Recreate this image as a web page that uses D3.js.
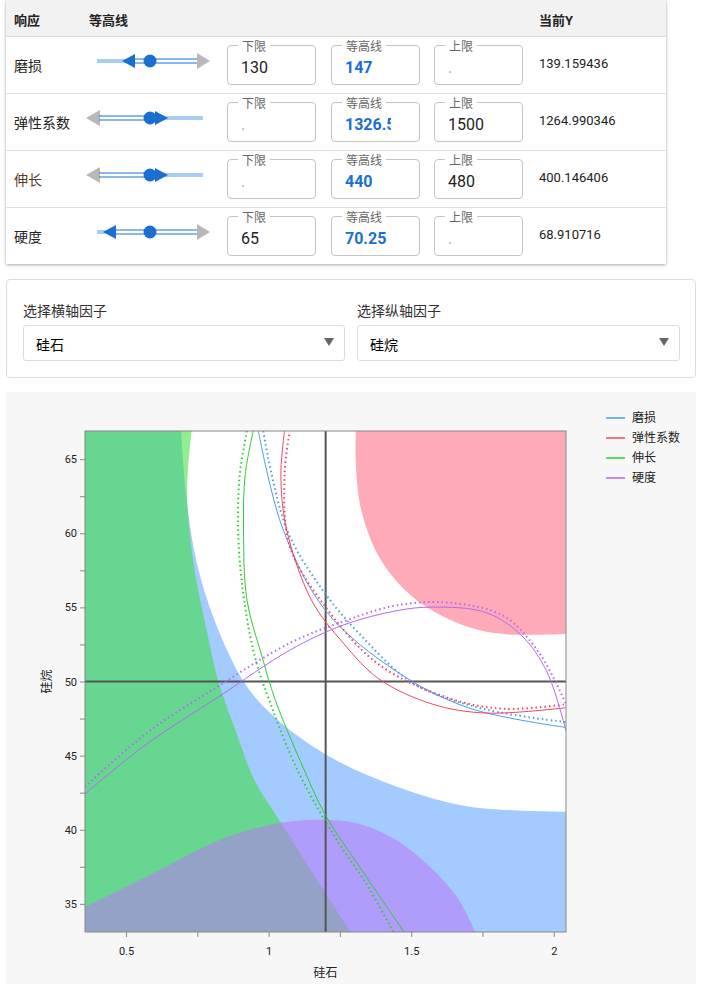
<!DOCTYPE html>
<html>
<head>
<meta charset="utf-8">
<script src="https://d3js.org/d3.v7.min.js"></script>
<style>
body{margin:0;font-family:Roboto,"Noto Sans CJK SC",sans-serif;background:#fff;width:705px;height:984px;overflow:hidden;position:relative}
.tbl{position:absolute;left:6px;top:0;width:660px;height:264px;box-shadow:0 1px 3px rgba(0,0,0,.35);background:#fff}
.hdr{height:36px;background:#f2f2f2;border-bottom:1px solid #ddd;position:relative;font-weight:bold;font-size:13px;color:#222}
.hdr span{position:absolute;top:10px}
.row{height:56px;border-bottom:1px solid #e0e0e0;position:relative;font-size:14px;color:#222}
.row:last-child{border-bottom:none}
.nm{position:absolute;left:8px;top:18px}
.box{position:absolute;top:8px;width:87px;height:38px;border:1px solid #c4c4c4;border-radius:4px}
.box .lb{position:absolute;top:-9px;left:10px;background:#fff;padding:0 4px;font-size:12px;color:#666}
.box .v{position:absolute;left:13px;top:12px;font-size:16px}
.cy{position:absolute;left:533px;top:19px;font-size:13px}
.sel{position:absolute;left:6px;top:279px;width:688px;height:97px;border:1px solid #ddd;border-radius:4px}
.sel .t{position:absolute;top:20px;font-size:14px;color:#333}
.sel .d{position:absolute;top:45px;width:320px;height:34px;border:1px solid #ddd;border-radius:3px;font-size:14px}
.sel .d span{position:absolute;left:12px;top:8px}
.sel .d i{position:absolute;right:10px;top:12px;width:0;height:0;border-left:5px solid transparent;border-right:5px solid transparent;border-top:8px solid #666}
</style>
</head>
<body>
<div class="tbl" id="tbl"><div class="hdr"><span style="left:8px">响应</span><span style="left:83px">等高线</span><span style="left:533px">当前Y</span></div></div>
<div class="sel">
  <div class="t" style="left:16px">选择横轴因子</div>
  <div class="d" style="left:16px"><span>硅石</span><i></i></div>
  <div class="t" style="left:350px">选择纵轴因子</div>
  <div class="d" style="left:350px;width:321px"><span>硅烷</span><i></i></div>
</div>
<svg id="chart" width="705" height="984" style="position:absolute;left:0;top:0;pointer-events:none"></svg>
<script>
// ---- table data
const responses = ["磨损", "弹性系数", "伸长", "硬度"];
const nameColors = ["#222", "#222", "#5a3a1e", "#222"];
const lower = ["130", ".", ".", "65"];
const contourVal = ["147", "1326.5", "440", "70.25"];
const upper = [".", "1500", "480", "."];
const currentY = ["139.159436", "1264.990346", "400.146406", "68.910716"];
const sliderDir = ["left", "right", "right", "left"];

const tbl = d3.select("#tbl");
responses.forEach((r, i) => {
  const row = tbl.append("div").attr("class", "row");
  row.append("div").attr("class", "nm").style("color", nameColors[i]).text(r);
  [["下限", lower[i], 221, false], ["等高线", contourVal[i], 325, true], ["上限", upper[i], 428, false]].forEach(b => {
    const bx = row.append("div").attr("class", "box").style("left", b[2] + "px");
    bx.append("div").attr("class", "lb").text(b[0]);
    const v = bx.append("div").attr("class", "v").text(b[1]);
    if (b[3]) v.style("color", "#1a6fd0").style("font-weight", "bold").style("overflow", "hidden").style("white-space", "nowrap").style("width", "46px");
    else if (b[1] === ".") v.style("color", "#aaa");
  });
  row.append("div").attr("class", "cy").text(currentY[i]);
});

// slider glyphs
const svg = d3.select("#chart");
responses.forEach((r, i) => {
  const cy = 61 + i * 57;
  const g = svg.append("g");
  const blue = "#1a6fd0", lb = "#a8cdf0", gr = "#b8b8b8";
  if (sliderDir[i] === "left") {
    const tl = i === 0 ? 122 : 103;
    g.append("line").attr("x1", 97).attr("x2", tl + 4).attr("y1", cy).attr("y2", cy).attr("stroke", lb).attr("stroke-width", 4);
    g.append("path").attr("d", `M${tl},${cy}L${tl + 13},${cy - 7}L${tl + 13},${cy + 7}Z`).attr("fill", blue);
    [-2, 2].forEach(o => g.append("line").attr("x1", tl + 12).attr("x2", 198).attr("y1", cy + o).attr("y2", cy + o).attr("stroke", blue).attr("stroke-width", 1));
    g.append("path").attr("d", `M210,${cy}L197,${cy - 8}L197,${cy + 8}Z`).attr("fill", gr);
  } else {
    g.append("path").attr("d", `M86,${cy}L100,${cy - 8}L100,${cy + 8}Z`).attr("fill", gr);
    [-2, 2].forEach(o => g.append("line").attr("x1", 99).attr("x2", 156).attr("y1", cy + o).attr("y2", cy + o).attr("stroke", blue).attr("stroke-width", 1));
    g.append("line").attr("x1", 162).attr("x2", 203).attr("y1", cy).attr("y2", cy).attr("stroke", lb).attr("stroke-width", 4);
    g.append("path").attr("d", `M168,${cy}L155,${cy - 7}L155,${cy + 7}Z`).attr("fill", blue);
  }
  g.append("circle").attr("cx", 150).attr("cy", cy).attr("r", 6.5).attr("fill", blue);
});

// ---- contour chart data (x = 硅石, y = 硅烷)
const xDomain = [0.356, 2.043];
const yDomain = [33.1, 66.9];
const xTicks = [0.5, 1, 1.5, 2];
const yTicks = [35, 40, 45, 50, 55, 60, 65];
const current = {x: 1.2, y: 50};

// region boundaries (curved part) and the plot corners that close them
const blueEdge = [[0.693,66.9],[0.712,62.29],[0.749,57.92],[0.812,54.05],[0.912,50.0],[1.012,47.75],[1.2,45.08],[1.45,42.9],[1.7,41.57],[2.043,41.21]];
const blueCorners = [[2.043,33.1],[0.356,33.1],[0.356,66.9]];
const greenEdge = [[0.730,66.9],[0.714,62.77],[0.737,57.92],[0.787,53.08],[0.824,50.0],[0.887,46.54],[0.949,43.39],[1.043,40.48],[1.162,36.84],[1.287,33.1]];
const greenCorners = [[0.356,33.1],[0.356,66.9]];
const purpleEdge = [[0.356,34.78],[0.574,36.84],[0.824,39.27],[1.012,40.36],[1.175,40.67],[1.325,40.36],[1.45,39.27],[1.575,37.33],[1.663,35.39],[1.725,33.1]];
const purpleCorners = [[0.356,33.1]];
const pinkEdge = [[1.306,66.9],[1.306,64.71],[1.325,61.56],[1.387,58.41],[1.475,56.23],[1.575,54.78],[1.7,53.68],[1.825,53.2],[2.043,53.2]];
const pinkCorners = [[2.043,66.9]];

const wearSolid = [[0.964,66.9],[1.049,60.35],[1.2,54.78],[1.45,50.66],[1.7,48.23],[2.043,46.9]];
const wearDot = [[0.981,66.9],[1.062,60.35],[1.187,56.23],[1.325,53.08],[1.513,49.81],[1.763,48.11],[2.043,47.26]];
const elasSolid = [[1.056,66.9],[1.043,63.98],[1.062,60.35],[1.150,55.5],[1.262,52.59],[1.387,50.17],[1.575,48.47],[1.763,47.87],[2.043,48.23]];
const elasDot = [[1.072,66.65],[1.056,63.98],[1.074,59.14],[1.2,55.02],[1.387,51.14],[1.638,48.84],[1.825,48.16],[2.043,48.47]];
const elongSolid = [[0.946,66.9],[0.918,63.98],[0.912,60.35],[0.924,55.5],[0.974,51.87],[1.024,48.72],[1.112,44.6],[1.2,40.96],[1.325,37.33],[1.475,33.1]];
const elongDot = [[0.924,66.9],[0.899,63.98],[0.893,60.35],[0.906,56.71],[0.949,51.87],[1.012,48.23],[1.099,44.11],[1.225,39.75],[1.350,36.12],[1.437,33.1]];
const hardSolid = [[0.356,42.42],[0.574,45.81],[0.824,48.96],[1.074,52.11],[1.262,53.81],[1.45,54.78],[1.575,55.02],[1.763,54.65],[1.888,53.08],[1.976,50.66],[2.043,46.66]];
const hardDot = [[0.356,42.9],[0.574,46.54],[0.824,49.69],[1.074,52.59],[1.262,54.05],[1.45,55.14],[1.638,55.31],[1.825,54.41],[1.951,51.87],[2.043,48.47]];

const series = ["磨损", "弹性系数", "伸长", "硬度"];
const colors = ["#4a9bef", "#f0475e", "#2ecc2e", "#b06af0"];
const solids = [wearSolid, elasSolid, elongSolid, hardSolid];
const dots = [wearDot, elasDot, elongDot, hardDot];

// panel
svg.append("rect").attr("x", 6).attr("y", 392).attr("width", 690).attr("height", 592).attr("fill", "#f7f7f7");

const L = 85, R = 566, T = 431, B = 932;
const x = d3.scaleLinear().domain(xDomain).range([L, R]);
const y = d3.scaleLinear().domain(yDomain).range([B, T]);

svg.append("clipPath").attr("id", "clip").append("rect").attr("x", L).attr("y", T).attr("width", R - L).attr("height", B - T);
const plot = svg.append("g").attr("clip-path", "url(#clip)");
plot.append("rect").attr("x", L).attr("y", T).attr("width", R - L).attr("height", B - T).attr("fill", "#fff");

const curve = d3.line().x(d => x(d[0])).y(d => y(d[1])).curve(d3.curveCatmullRom);
const region = (edge, corners) => curve(edge) + corners.map(c => `L${x(c[0])},${y(c[1])}`).join("") + "Z";
plot.append("path").attr("d", region(blueEdge, blueCorners)).attr("fill", "rgb(164,203,255)");
plot.append("path").attr("d", region(greenEdge, greenCorners)).attr("fill", "rgba(50,224,50,0.54)");
plot.append("path").attr("d", region(purpleEdge, purpleCorners)).attr("fill", "rgba(187,115,245,0.53)");
plot.append("path").attr("d", region(pinkEdge, pinkCorners)).attr("fill", "rgb(255,170,185)");

// crosshair
plot.append("line").attr("x1", x(current.x)).attr("x2", x(current.x)).attr("y1", T).attr("y2", B).attr("stroke", "#555").attr("stroke-width", 2);
plot.append("line").attr("x1", L).attr("x2", R).attr("y1", y(current.y)).attr("y2", y(current.y)).attr("stroke", "#555").attr("stroke-width", 2);

series.forEach((s, i) => {
  plot.append("path").attr("d", curve(solids[i])).attr("fill", "none").attr("stroke", colors[i]).attr("stroke-width", 1);
  plot.append("path").attr("d", curve(dots[i])).attr("fill", "none").attr("stroke", colors[i]).attr("stroke-width", 2).attr("stroke-dasharray", "1.5,3");
});

svg.append("rect").attr("x", L).attr("y", T).attr("width", R - L).attr("height", B - T).attr("fill", "none").attr("stroke", "#888");

// axes
const xa = svg.append("g").attr("transform", `translate(0,${B})`)
  .call(d3.axisBottom(x).tickValues(d3.range(0.5, 2.01, 0.25)).tickSize(5).tickFormat(d => xTicks.includes(d) ? d : ""));
const ya = svg.append("g").attr("transform", `translate(${L},0)`)
  .call(d3.axisLeft(y).tickValues(d3.range(35, 66, 2.5)).tickSize(5).tickFormat(d => yTicks.includes(d) ? d : ""));
[xa, ya].forEach(a => {
  a.select(".domain").remove();
  a.selectAll("line").attr("stroke", "#888");
  a.selectAll("text").attr("font-size", 11).attr("fill", "#222").attr("font-family", "Roboto,sans-serif");
});
xa.selectAll("text").attr("dy", "1.4em");

svg.append("text").attr("x", (L + R) / 2).attr("y", 977).attr("text-anchor", "middle").attr("font-size", 12).attr("fill", "#222").text("硅石");
svg.append("text").attr("transform", `translate(51,${y(50)}) rotate(-90)`).attr("text-anchor", "middle").attr("font-size", 12).attr("fill", "#222").text("硅烷");

// legend
series.forEach((s, i) => {
  const ly = 418 + i * 20;
  svg.append("line").attr("x1", 606).attr("x2", 625).attr("y1", ly).attr("y2", ly).attr("stroke", colors[i]).attr("stroke-width", 1.5);
  svg.append("text").attr("x", 632).attr("y", ly + 4).attr("font-size", 12).attr("fill", "#222").text(s);
});
</script>
</body>
</html>
